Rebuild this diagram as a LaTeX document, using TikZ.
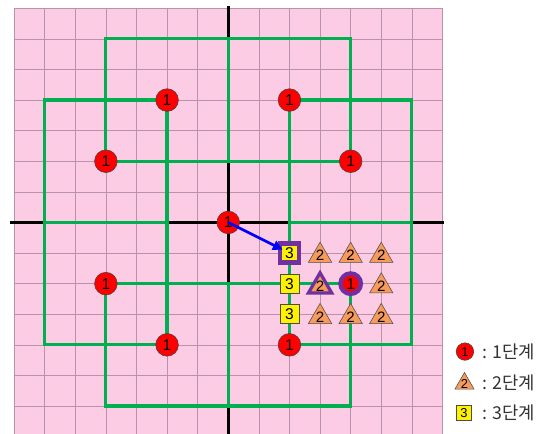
\documentclass[tikz,border=0pt]{standalone}
\usepackage{fontspec}
\setmainfont{Liberation Sans}
\newfontfamily\krfont{Noto Sans CJK KR}
\usetikzlibrary{shapes.geometric,arrows.meta}
\definecolor{pinkbg}{HTML}{FCCBE4}
\definecolor{gridc}{HTML}{B993AB}
\definecolor{grn}{HTML}{00B050}
\definecolor{org}{HTML}{F79A5A}
\definecolor{prp}{HTML}{7030A0}
\begin{document}
\begin{tikzpicture}[x=1cm,y=1cm,
  stageone/.style={circle,draw=black!75,line width=0.5pt,fill=red,minimum size=0.74cm,inner sep=0pt,font=\fontsize{14.5}{14.5}\selectfont},
  stagetwo/.style={regular polygon,regular polygon sides=3,draw=black!70,line width=0.5pt,fill=org,minimum size=0.88cm,inner sep=-1pt,yshift=-0.085cm,font=\fontsize{14}{14}\selectfont},
  stagethree/.style={rectangle,draw=black!70,line width=0.5pt,fill=yellow,minimum size=0.62cm,inner sep=0pt,font=\fontsize{14.5}{14.5}\selectfont},
  hl/.style={draw=prp,line width=4pt},
  greenline/.style={draw=grn,line width=3pt},
  axisline/.style={draw=black,line width=2.5pt},
  legendtext/.style={anchor=west,inner sep=0pt,text=black!80,font=\krfont\fontsize{16.5}{16.5}\selectfont}
]
\useasboundingbox (-7.46,-6.91) rectangle (10.58,7.27);
% background grid
\fill[pinkbg] (-7,-6.95) rectangle (7,7);
\draw[gridc,line width=0.5pt] (-7,-6.95) grid (7,7);
% axes
\coordinate (xl) at (-7.13,0);
\coordinate (xr) at (7.05,0);
\coordinate (yt) at (0,7.07);
\coordinate (yb) at (0,-6.95);
\draw[axisline] (xl) -- (xr);
\draw[axisline] (yt) -- (yb);
% green figures
\draw[greenline] (-4,2) -- (-4,6) -- (4,6) -- (4,2) -- cycle (0,2) -- (0,6);
\draw[greenline] (-6,-4) -- (-6,4) -- (-2,4) -- (-2,-4) -- cycle (-6,0) -- (-2,0);
\draw[greenline] (2,-4) -- (2,4) -- (6,4) -- (6,-4) -- cycle (2,0) -- (6,0);
\draw[greenline] (-4,-6) -- (-4,-2) -- (4,-2) -- (4,-6) -- cycle (0,-2) -- (0,-6);
% stage 1 circles
\node[stageone] (o) at (0,0) {1};
\node[stageone] (c1) at (-2,4) {1};
\node[stageone] (c2) at (2,4) {1};
\node[stageone] (c3) at (-4,2) {1};
\node[stageone] (c4) at (4,2) {1};
\node[stageone] (c5) at (-4,-2) {1};
\node[stageone] (c6) at (-2,-4) {1};
\node[stageone] (c7) at (2,-4) {1};
\node[stageone,hl,minimum size=0.67cm] (c8) at (4,-2) {1};
% stage 3 squares
\node[stagethree,hl] (s1) at (2,-1) {3};
\node[stagethree] (s2) at (2,-2) {3};
\node[stagethree] (s3) at (2,-3) {3};
% stage 2 triangles
\node[stagetwo] (t1) at (3,-1) {2};
\node[stagetwo] (t2) at (4,-1) {2};
\node[stagetwo] (t3) at (5,-1) {2};
\node[stagetwo,draw=prp,line width=3pt] (t4) at (3,-2) {2};
\node[stagetwo] (t5) at (5,-2) {2};
\node[stagetwo] (t6) at (3,-3) {2};
\node[stagetwo] (t7) at (4,-3) {2};
\node[stagetwo] (t8) at (5,-3) {2};
% arrow
\draw[blue,line width=2.5pt,-{Triangle[length=9pt,width=9pt]},shorten >=0.25cm] (o.center) -- (s1.center);
% legend
\node[stageone,minimum size=0.57cm,font=\fontsize{12}{12}\selectfont] (l1) at (7.735,-4.22) {1};
\node[stagetwo,minimum size=0.72cm,inner sep=-1pt,font=\fontsize{12}{12}\selectfont] (l2) at (7.72,-5.18) {2};
\node[stagethree,minimum size=0.49cm,font=\fontsize{12}{12}\selectfont] (l3) at (7.70,-6.225) {3};
\node[legendtext] (lt1) at (8.3,-4.22) {: 1단계};
\node[legendtext] (lt2) at (8.3,-5.245) {: 2단계};
\node[legendtext] (lt3) at (8.3,-6.225) {: 3단계};
\end{tikzpicture}
\end{document}
